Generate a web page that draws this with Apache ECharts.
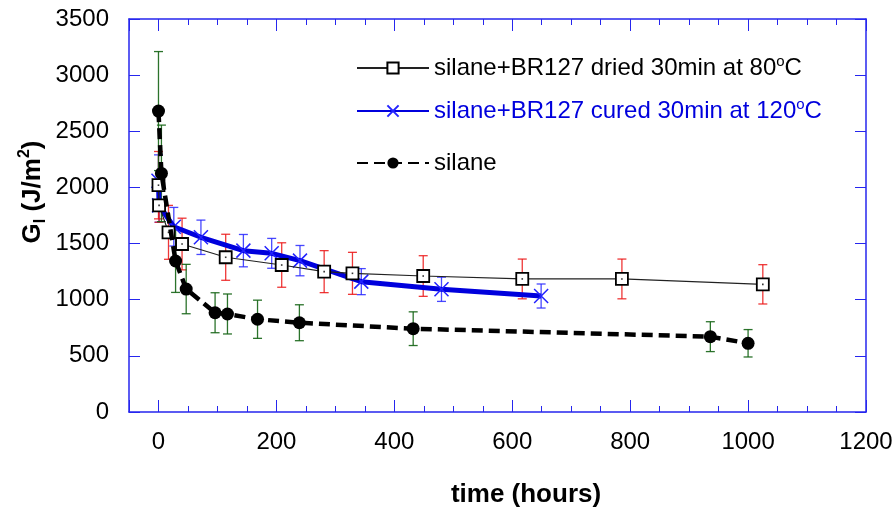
<!DOCTYPE html>
<html>
<head>
<meta charset="utf-8">
<script src="https://cdn.jsdelivr.net/npm/echarts@6/dist/echarts.min.js"></script>
<style>html,body{margin:0;padding:0;background:#fff;}#c{width:896px;height:514px;}</style>
</head>
<body>
<div id="c"></div>
<script>
// ---- data (time in hours, G_I in J/m^2) ----
const driedHours = [0, 1, 17, 40, 114, 209, 281, 329, 449, 617, 786, 1025];
const driedG     = [2020, 1840, 1600, 1496, 1378, 1309, 1250, 1235, 1211, 1185, 1185, 1137];
const driedErr   = [300, 150, 240, 230, 205, 198, 187, 187, 181, 177, 177, 175];

const curedHours = [0, 1, 26, 72, 144, 192, 240, 344, 480, 649];
const curedG     = [2060, 1840, 1650, 1556, 1437, 1413, 1348, 1161, 1093, 1033];
const curedErr   = [230, 150, 172, 153, 144, 133, 135, 116, 108, 107];

const silaneHours = [0, 5, 29, 47, 96, 117, 168, 239, 432, 936, 1000];
const silaneG     = [2680, 2125, 1345, 1095, 884, 873, 826, 795, 742, 671, 612];
const silaneErr   = [530, 430, 280, 220, 178, 178, 170, 160, 150, 133, 122];

const xTickLabels = ['0', '200', '400', '600', '800', '1000', '1200'];
const yTickLabels = ['0', '500', '1000', '1500', '2000', '2500', '3000', '3500'];

const nameDried = 'silane+BR127 dried 30min at 80°C';
const nameCured = 'silane+BR127 cured 30min at 120°C';
const nameSilane = 'silane';

const FONT = 'Liberation Sans, Arial, sans-serif';
const AXIS_BLUE = '#2626ee';

function zip(a, b, c) { return a.map((v, i) => c ? [v, b[i], c[i]] : [v, b[i]]); }

function errRender(color) {
  return function (params, api) {
    const x = api.value(0), y = api.value(1), e = api.value(2);
    const t = api.coord([x, y + e]);
    const b = api.coord([x, y - e]);
    const hw = 4.5;
    const st = { stroke: color, lineWidth: 1.3 };
    return {
      type: 'group',
      children: [
        { type: 'line', shape: { x1: t[0], y1: t[1], x2: b[0], y2: b[1] }, style: st },
        { type: 'line', shape: { x1: t[0] - hw, y1: t[1], x2: t[0] + hw, y2: t[1] }, style: st },
        { type: 'line', shape: { x1: b[0] - hw, y1: b[1], x2: b[0] + hw, y2: b[1] }, style: st }
      ]
    };
  };
}

function fmt(name) {
  const i = name.indexOf('°');
  if (i < 0) return '{t|' + name + '}';
  return '{t|' + name.slice(0, i) + '}{s|o}{t|' + name.slice(i + 1) + '}';
}
function legendRich(color) {
  return {
    t: { fontSize: 24, fontFamily: FONT, color: color, lineHeight: 28, verticalAlign: 'middle' },
    s: { fontSize: 15, fontFamily: FONT, color: color, lineHeight: 4, verticalAlign: 'top' }
  };
}
function mkLegend(name, top, color) {
  return {
    data: [name], left: 356, top: top, padding: 0,
    itemWidth: 72, itemHeight: 14, selectedMode: false,
    formatter: fmt,
    textStyle: { color: color, fontSize: 24, fontFamily: FONT, rich: legendRich(color) }
  };
}

const axisLineStyle = { color: AXIS_BLUE, width: 1.5 };

const chart = echarts.init(document.getElementById('c'), null, { renderer: 'canvas' });
chart.setOption({
  animation: false,
  backgroundColor: '#fff',
  grid: { left: 129, right: 30, top: 19, bottom: 102, containLabel: false },
  legend: [
    mkLegend(nameDried, 54, '#000'),
    mkLegend(nameCured, 97, '#0000dd'),
    mkLegend(nameSilane, 151, '#000')
  ],
  xAxis: [
    {
      type: 'value', min: -50, max: 1200, splitNumber: 6, position: 'bottom',
      axisLine: { show: true, onZero: false, lineStyle: axisLineStyle },
      axisTick: { show: true, inside: true, length: 12, lineStyle: { color: AXIS_BLUE, width: 1 } },
      minorTick: { show: true, splitNumber: 4, length: 6, lineStyle: { color: AXIS_BLUE, width: 1 } },
      splitLine: { show: false },
      axisLabel: {
        color: '#000', fontSize: 24, fontFamily: FONT, margin: 18, showMinLabel: false,
        formatter: function (v) { const s = String(v); return xTickLabels.indexOf(s) >= 0 ? s : ''; }
      }
    },
    {
      type: 'value', min: -50, max: 1200, splitNumber: 6, position: 'top',
      axisLine: { show: true, onZero: false, lineStyle: axisLineStyle },
      axisTick: { show: true, inside: true, length: 12, lineStyle: { color: AXIS_BLUE, width: 1 } },
      minorTick: { show: true, splitNumber: 4, length: 6, lineStyle: { color: AXIS_BLUE, width: 1 } },
      splitLine: { show: false },
      axisLabel: { show: false }
    }
  ],
  yAxis: [
    {
      type: 'value', min: 0, max: 3500, interval: 500, position: 'left',
      axisLine: { show: true, onZero: false, lineStyle: axisLineStyle },
      axisTick: { show: true, inside: true, length: 11, lineStyle: { color: AXIS_BLUE, width: 1 } },
      splitLine: { show: false },
      axisLabel: {
        color: '#000', fontSize: 24, fontFamily: FONT, margin: 20,
        formatter: function (v) { const s = String(v); return yTickLabels.indexOf(s) >= 0 ? s : ''; }
      }
    },
    {
      type: 'value', min: 0, max: 3500, interval: 500, position: 'right',
      axisLine: { show: true, onZero: false, lineStyle: axisLineStyle },
      axisTick: { show: true, inside: true, length: 11, lineStyle: { color: AXIS_BLUE, width: 1 } },
      splitLine: { show: false },
      axisLabel: { show: false }
    }
  ],
  graphic: [
    {
      type: 'text', x: 526, y: 495, silent: true,
      style: { text: 'time (hours)', fontSize: 26, fontWeight: 'bold', fontFamily: FONT, fill: '#000', align: 'center', verticalAlign: 'middle' }
    },
    {
      type: 'text', x: 33, y: 192, rotation: Math.PI / 2, silent: true,
      style: {
        text: '{b|G}{sub|I}{b| (J/m}{sup|2}{b|)}', align: 'center', verticalAlign: 'middle', fill: '#000',
        rich: {
          b: { fontSize: 26, fontWeight: 'bold', fontFamily: FONT, fill: '#000', lineHeight: 32, verticalAlign: 'middle' },
          sub: { fontSize: 16, fontWeight: 'bold', fontFamily: FONT, fill: '#000', lineHeight: 32, verticalAlign: 'bottom' },
          sup: { fontSize: 16, fontWeight: 'bold', fontFamily: FONT, fill: '#000', lineHeight: 32, verticalAlign: 'top' }
        }
      }
    }
  ],
  series: [
    { type: 'custom', name: 'errCured', renderItem: errRender('rgba(40,40,255,0.85)'), data: zip(curedHours, curedG, curedErr), encode: { x: 0, y: 1 }, z: 1, silent: true },
    { type: 'custom', name: 'errDried', renderItem: errRender('rgba(235,20,20,0.85)'), data: zip(driedHours, driedG, driedErr), encode: { x: 0, y: 1 }, z: 1, silent: true },
    { type: 'custom', name: 'errSilane', renderItem: errRender('rgba(20,100,20,0.9)'), data: zip(silaneHours, silaneG, silaneErr), encode: { x: 0, y: 1 }, z: 1, silent: true },
    {
      type: 'line', name: nameCured, data: zip(curedHours, curedG), z: 3,
      symbol: 'path://M0,0L10,10M0,10L10,0', symbolSize: 14, showAllSymbol: true,
      lineStyle: { color: '#0000dd', width: 5 },
      itemStyle: { color: 'rgba(0,0,0,0)', borderColor: '#2222ff', borderWidth: 1.5 }
    },
    {
      type: 'line', name: nameDried, data: zip(driedHours, driedG), z: 4,
      symbol: 'rect', symbolSize: 12, showAllSymbol: true,
      lineStyle: { color: '#222', width: 1.2 },
      itemStyle: { color: '#fff', borderColor: '#000', borderWidth: 1.8 }
    },
    {
      type: 'line', name: nameSilane, data: zip(silaneHours, silaneG), z: 5,
      symbol: 'circle', symbolSize: 13, showAllSymbol: true,
      lineStyle: { color: '#000', width: 4.5, type: [11, 6] },
      itemStyle: { color: '#000' }
    },
    {
      type: 'scatter', name: 'driedDots', data: zip(driedHours, driedG), z: 6, silent: true,
      symbol: 'rect', symbolSize: 1.6, itemStyle: { color: '#000' }
    }
  ]
});
</script>
</body>
</html>
